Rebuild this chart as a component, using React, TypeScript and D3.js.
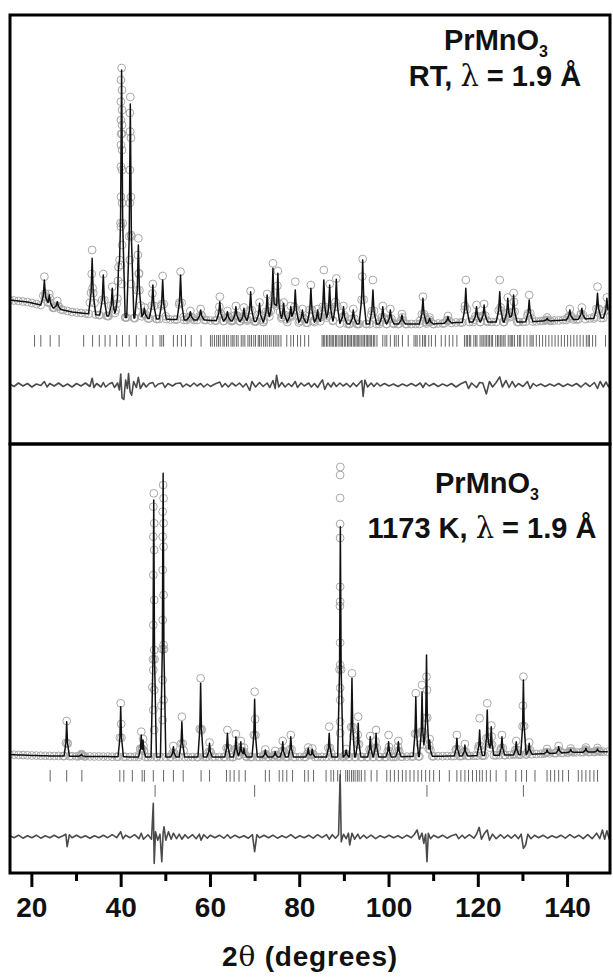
import React from "react";
import * as d3 from "d3";

// ---- data (intensities in arbitrary counts, angles in degrees 2theta) ----

// background level, one value per degree from 15 to 149
const topBackground: number[] = [
  1440, 1435, 1430, 1425, 1420, 1410, 1400, 1390, 1380, 1370, 1360, 1350, 1340, 1330, 1320, 1315,
  1310, 1305, 1300, 1295, 1290, 1285, 1280, 1275, 1270, 1270, 1265, 1265, 1260, 1260, 1260, 1255,
  1255, 1250, 1250, 1250, 1245, 1245, 1245, 1240, 1240, 1240, 1240, 1240, 1240, 1235, 1235, 1230,
  1230, 1230, 1230, 1230, 1225, 1225, 1225, 1225, 1220, 1220, 1220, 1220, 1220, 1220, 1220, 1215,
  1215, 1215, 1215, 1210, 1210, 1210, 1210, 1205, 1205, 1205, 1205, 1205, 1200, 1200, 1200, 1200,
  1200, 1200, 1200, 1200, 1200, 1200, 1200, 1200, 1200, 1200, 1200, 1200, 1200, 1200, 1200, 1200,
  1205, 1205, 1210, 1210, 1215, 1215, 1215, 1220, 1220, 1220, 1220, 1220, 1220, 1220, 1220, 1220,
  1220, 1220, 1220, 1220, 1225, 1225, 1225, 1230, 1230, 1230, 1235, 1235, 1240, 1240, 1245, 1245,
  1250, 1250, 1255, 1255, 1260, 1260, 1260,
];

// [2theta, calculated peak top, observed peak top]
const topPeaks: [number, number, number][] = [
  [22.8, 1640, 1673], [23.9, 1490, 1500], [25.7, 1423, 1430], [33.5, 1857, 1940], [36.0, 1690, 1700],
  [38.0, 1557, 1573], [39.4, 1757, 1770], [40.1, 3740, 3760], [42.05, 3400, 3470], [43.85, 1990, 2057],
  [45.2, 1357, 1365], [47.1, 1590, 1600], [49.3, 1640, 1680], [53.3, 1690, 1723], [55.5, 1323, 1330],
  [57.8, 1340, 1350], [62.1, 1423, 1473], [63.8, 1323, 1330], [65.7, 1373, 1380], [67.5, 1357, 1365],
  [69.0, 1523, 1530], [71.0, 1407, 1415], [72.7, 1490, 1500], [74.0, 1757, 1807], [75.1, 1707, 1730],
  [76.4, 1407, 1415], [78.0, 1373, 1380], [79.0, 1540, 1623], [80.6, 1340, 1350], [82.5, 1557, 1590],
  [84.0, 1340, 1350], [85.4, 1640, 1740], [86.7, 1590, 1600], [88.2, 1647, 1655], [89.8, 1373, 1380],
  [92.0, 1340, 1350], [94.1, 1840, 1850], [96.4, 1540, 1640], [98.6, 1373, 1380], [100.3, 1340, 1350],
  [102.9, 1290, 1300], [107.6, 1457, 1473], [109.1, 1257, 1265], [113.2, 1273, 1280], [117.2, 1557, 1640],
  [119.6, 1373, 1390], [121.3, 1390, 1400], [124.8, 1523, 1640], [126.6, 1457, 1465], [127.9, 1490, 1510],
  [131.4, 1440, 1490], [135.4, 1257, 1265], [140.5, 1340, 1350], [143.2, 1357, 1365], [146.7, 1507, 1573],
  [148.8, 1457, 1465],
];

// observed points on the flanks of the strong reflections
const topFlanks: [number, number][] = [
  [39.95, 3640], [40.2, 3540], [39.95, 3423], [40.2, 3340], [39.95, 3240], [40.2, 3190], [39.95, 2990],
  [40.2, 2940], [39.95, 2773], [40.2, 2740], [39.95, 2473], [40.2, 2410], [39.95, 2173], [40.2, 1990],
  [39.95, 1790], [40.2, 1600],
  [41.95, 3310], [42.2, 3060], [41.95, 2740], [42.2, 2470], [41.95, 2410], [42.2, 2090], [41.95, 1840],
  [42.2, 1600],
  [43.75, 1890], [43.95, 1700], [33.4, 1700], [33.6, 1560],
];

const topReflections: number[] = [
  20.6, 22.0, 24.1, 26.1, 31.6, 33.6, 35.1, 36.4, 37.5, 39.0, 40.3, 41.8, 43.4, 45.6, 47.1, 48.7, 49.1,
  49.5, 51.7, 52.6, 53.5, 54.4, 55.7, 57.9, 60.0, 60.4, 60.9, 61.4, 61.8, 62.2, 62.8, 63.1, 63.6, 64.0,
  64.6, 65.0, 65.3, 65.8, 66.2, 66.9, 67.3, 67.7, 68.4, 68.8, 69.2, 69.7, 70.1, 70.7, 71.0, 71.4, 71.9,
  72.3, 72.7, 73.2, 73.6, 74.1, 74.5, 74.9, 75.3, 75.8, 77.1, 78.0, 78.6, 79.5, 80.2, 81.1, 82.0, 85.0,
  85.3, 85.6, 86.0, 86.3, 86.7, 87.0, 87.3, 87.6, 88.0, 88.2, 88.6, 89.0, 89.3, 89.6, 90.0, 90.3, 90.7,
  91.0, 91.3, 91.6, 92.0, 92.3, 92.6, 92.9, 93.2, 93.5, 93.9, 94.2, 94.5, 94.9, 95.2, 95.5, 95.8, 96.1,
  96.5, 96.8, 97.3, 98.6, 99.1, 99.5, 100.3, 101.2, 101.6, 102.1, 103.0, 104.3, 105.6, 106.0, 106.3,
  106.9, 107.5, 107.9, 108.2, 108.9, 109.5, 110.4, 111.7, 112.6, 113.5, 114.3, 115.2, 116.9, 117.3,
  117.6, 118.0, 118.3, 119.0, 119.4, 119.7, 120.4, 120.8, 121.1, 121.5, 121.8, 122.2, 122.5, 122.9,
  123.2, 123.9, 124.3, 124.6, 125.0, 125.3, 125.7, 126.0, 126.7, 127.1, 127.4, 127.7, 128.1, 128.8,
  129.2, 129.5, 130.2, 130.9, 131.6, 132.0, 132.3, 133.0, 133.7, 134.4, 135.1, 135.8, 136.5, 137.2,
  137.9, 138.6, 139.3, 140.0, 140.7, 141.4, 142.1, 142.8, 143.5, 144.2, 144.6, 144.9, 145.6, 146.3, 148.5,
];

// obs - calc
const topDiff: [number, number][] = [
  [15, 10], [16, -15], [17, 20], [18, -10], [19, 15], [20, -20], [21, 10], [22, -5], [22.8, 35], [23.4, -20],
  [24, 15], [25, -10], [26, 20], [27, -15], [28, 10], [29, -20], [30, 15], [31, -10], [32, 20], [33, -15],
  [33.5, 68], [33.9, -25], [34.5, 15], [35.5, -20], [36, 25], [36.5, -20], [37.3, 10], [38, 25], [38.5, -25],
  [39.2, 20], [39.6, -50], [39.9, 110], [40.2, -128], [40.6, -145], [41, 50], [41.4, -35], [41.65, 115],
  [42, -68], [42.35, -102], [42.8, 35], [43.4, -25], [43.85, 77], [44.3, -35], [45, 20], [45.6, -20],
  [46.3, 15], [47.1, 25], [47.6, -20], [48.3, 10], [49.3, 20], [49.8, -25], [50.5, 15], [51.5, -10],
  [52.3, 15], [53.3, 20], [53.8, -20], [54.6, 10], [55.5, -15], [56.3, 20], [57, -10], [57.8, 15],
  [58.5, -20], [59.3, 10], [60, -15], [61, 10], [62.1, 30], [62.6, -20], [63.3, 15], [64, -20], [64.8, 20],
  [65.7, -10], [66.5, 20], [67.3, -20], [68, 15], [68.8, -55], [69.3, 35], [70.1, -20], [71, 25],
  [71.8, -15], [72.7, 20], [73.3, -25], [74, 45], [74.5, -35], [74.8, 98], [75.3, -20], [76, 25],
  [76.7, -20], [77.5, 15], [78.2, -15], [79, 35], [79.5, -25], [80.3, 20], [81, -10], [82, 20], [82.6, -20],
  [83.3, 15], [84, -25], [84.6, 20], [85.1, 51], [85.6, -43], [86.3, 20], [87, -20], [87.6, 25], [88.2, -15],
  [89, 20], [89.7, -10], [90.5, 15], [91.3, -20], [92, 20], [92.7, -15], [93.4, 20], [93.9, 45],
  [94.2, -115], [94.6, 50], [95.2, -20], [96, 20], [96.6, -15], [97.3, 20], [98, -10], [99, 15], [100, -10],
  [101, 10], [102, -15], [103, 10], [104, -10], [105, 15], [106, -10], [107, 20], [107.6, -25], [108.2, 20],
  [109, -10], [110, 15], [111, -15], [112, 10], [113, -10], [114, 15], [115, -20], [116, 10], [117.2, 35],
  [117.8, -35], [118.5, 20], [119.6, -25], [120.3, 25], [121, 20], [121.8, -90], [122.5, 35], [123.2, -20],
  [124, 25], [124.8, 81], [125.4, -20], [126.2, 45], [126.9, -25], [127.6, 35], [128.3, -20], [129, 15],
  [130, -15], [131, 35], [131.6, -35], [132.3, 15], [133, -10], [134, 10], [135, -15], [136, 10],
  [137, -10], [138, 15], [139, -15], [140, 10], [141, -10], [142, 15], [143, -20], [144, 20], [145, -15],
  [146, 25], [146.7, -35], [147.3, 35], [148, -20], [148.6, 30], [149.2, -20], [149.5, 20],
];

// bottom panel: 1173 K
const botBackground: number[] = [
  1185, 1183, 1181, 1179, 1177, 1175, 1174, 1173, 1172, 1171, 1170, 1170, 1170, 1168, 1168, 1167,
  1167, 1166, 1166, 1165, 1165, 1164, 1164, 1163, 1163, 1162, 1162, 1161, 1161, 1160, 1160, 1160,
  1160, 1160, 1160, 1160, 1160, 1160, 1160, 1160, 1160, 1160, 1160, 1160, 1160, 1160, 1160, 1160,
  1160, 1160, 1160, 1160, 1160, 1160, 1160, 1160, 1160, 1160, 1160, 1160, 1160, 1160, 1160, 1160,
  1160, 1160, 1160, 1160, 1160, 1160, 1160, 1160, 1160, 1160, 1160, 1160, 1160, 1160, 1160, 1160,
  1160, 1160, 1160, 1160, 1160, 1160, 1161, 1162, 1163, 1164, 1165, 1165, 1166, 1166, 1167, 1167,
  1168, 1168, 1169, 1169, 1170, 1170, 1171, 1171, 1172, 1173, 1174, 1175, 1176, 1177, 1178, 1179,
  1180, 1181, 1182, 1184, 1186, 1188, 1190, 1192, 1194, 1196, 1198, 1200, 1202, 1204, 1206, 1207,
  1208, 1209, 1210, 1211, 1212, 1213, 1213,
];

const botPeaks: [number, number, number][] = [
  [27.8, 1513, 1520], [31.1, 1187, 1190], [39.9, 1663, 1697], [44.5, 1380, 1413], [44.9, 1330, 1340],
  [47.3, 3730, 3797], [49.4, 3997, 3880], [51.7, 1263, 1270], [53.6, 1513, 1563], [57.8, 1897, 1947],
  [59.8, 1297, 1305], [63.8, 1397, 1430], [65.7, 1363, 1390], [66.8, 1313, 1320], [67.5, 1247, 1255],
  [69.9, 1737, 1813], [72.3, 1230, 1235], [74.5, 1213, 1220], [76.2, 1313, 1320], [78.0, 1363, 1380],
  [81.9, 1247, 1255], [82.8, 1237, 1245], [86.6, 1397, 1463], [89.1, 3463, 4060], [90.4, 1230, 1240],
  [91.7, 1947, 1997], [93.1, 1497, 1563], [95.8, 1363, 1370], [97.1, 1397, 1430], [99.9, 1313, 1380],
  [102.1, 1313, 1320], [106.0, 1763, 1797], [107.4, 1813, 1880], [108.4, 2180, 1963], [109.1, 1330, 1340],
  [115.2, 1347, 1380], [117.0, 1280, 1290], [120.3, 1430, 1547], [122.0, 1630, 1697], [122.9, 1463, 1475],
  [125.3, 1363, 1380], [128.5, 1313, 1320], [130.1, 1930, 1963], [131.4, 1297, 1305], [135.4, 1230, 1240],
  [138.0, 1263, 1270], [140.7, 1237, 1245], [144.1, 1247, 1255], [146.7, 1240, 1250],
];

const botFlanks: [number, number][] = [
  [47.2, 3663], [47.4, 3497], [47.2, 3363], [47.4, 3230], [47.2, 2980], [47.4, 2730], [47.2, 2480],
  [47.4, 2230], [47.2, 2030], [47.4, 1830], [47.2, 1630], [47.4, 1430],
  [49.5, 3747], [49.3, 3613], [49.5, 3497], [49.3, 3363], [49.5, 3263], [49.3, 3030], [49.5, 2780],
  [49.3, 2530], [49.5, 2280], [49.3, 1930], [49.5, 1730], [49.3, 1530],
  [89.05, 3980], [89.05, 3750], [89.05, 3490], [89.05, 3350], [89.05, 2863], [89.05, 2713], [89.05, 2303],
  [89.05, 2080], [89.05, 1850], [89.05, 1730], [89.05, 1513], [89.05, 1400],
];

const botReflections: number[] = [
  24.1, 27.8, 31.2, 39.7, 40.6, 42.5, 44.7, 45.2, 47.2, 49.5, 51.7, 53.9, 57.9, 59.8, 63.6, 64.4, 65.3,
  66.4, 67.8, 72.3, 73.2, 75.4, 76.2, 77.1, 78.4, 81.1, 81.9, 83.1, 85.9, 87.0, 87.6, 88.5, 89.1, 90.3,
  90.7, 91.1, 91.6, 92.0, 92.4, 92.9, 93.3, 93.8, 94.6, 96.0, 97.3, 99.5, 100.3, 101.2, 102.1, 103.0,
  103.8, 104.7, 105.6, 106.5, 107.3, 108.2, 109.1, 110.0, 111.3, 113.5, 115.2, 116.1, 117.0, 117.8,
  118.7, 119.6, 120.3, 120.9, 121.8, 122.7, 124.0, 126.2, 128.4, 129.7, 130.8, 132.7, 135.4, 136.2,
  137.1, 138.0, 138.9, 140.2, 142.4, 143.2, 144.1, 145.0, 145.9, 146.7,
];

// second phase reflections (lower tick row)
const botReflections2: number[] = [47.6, 69.9, 108.5, 130.1];

const botDiff: [number, number][] = [
  [15, 10], [16, -10], [17, 15], [18, -15], [19, 10], [20, -10], [21, 15], [22, -15], [23, 10], [24, -10],
  [25, 15], [26, -10], [27, 10], [27.6, 25], [27.9, -100], [28.4, 20], [29, -10], [30, 15], [31, -10],
  [32, 10], [33, -15], [34, 10], [35, -10], [36, 15], [37, -10], [38, 20], [39, -10], [39.9, 50],
  [40.4, -20], [41, 15], [42, -10], [43, 20], [44, -20], [44.5, 35], [45, -25], [46, 20], [46.8, -25],
  [47.2, 333], [47.4, -267], [47.7, 50], [48.2, -35], [48.7, 25], [49.1, -250], [49.4, 35], [49.6, 100],
  [50, -35], [50.6, 50], [51.2, -25], [51.7, 35], [52.4, -20], [53, 25], [53.6, -25], [54.3, 20], [55, -15],
  [56, 20], [56.8, -20], [57.5, 25], [57.9, -35], [58.5, 20], [59.3, -15], [60, 15], [61, -10], [62, 15],
  [63, -15], [63.8, 20], [64.5, -15], [65.5, 15], [66.5, -10], [67.5, 10], [68.5, -15], [69.4, 20],
  [69.9, -150], [70.4, 20], [71, -10], [72, 15], [73, -10], [74, 15], [75, -15], [76, 10], [77, -10],
  [78, 20], [79, -15], [80, 10], [81, -10], [82, 15], [83, -15], [84, 20], [85, -10], [86, 20], [86.6, -25],
  [87.3, 20], [88, -15], [88.7, 20], [89.05, 620], [89.3, -50], [89.8, 25], [90.4, -20], [90.9, 35],
  [91.2, -83], [91.7, 35], [92.3, -25], [93, 25], [93.5, -20], [94.3, 15], [95, -15], [96, 15], [97, -20],
  [98, 10], [99, -10], [100, 15], [101, -10], [102, 10], [103, -15], [104, 15], [105, -10], [105.7, 25],
  [106.3, 67], [106.8, -25], [107.4, 35], [107.8, -67], [108.2, 25], [108.5, -250], [108.8, 35],
  [109.3, -20], [110, 15], [111, -10], [112, 15], [113, -15], [114, 10], [115, 25], [115.6, -20],
  [116.4, 15], [117, -15], [118, 20], [119, -15], [119.6, 25], [120.2, 93], [120.7, -25], [121.4, 35],
  [122, 67], [122.5, -35], [123.2, 25], [124, -20], [125, 20], [125.8, -15], [126.6, 15], [127.4, -15],
  [128.2, 20], [129, -20], [129.6, 25], [130.1, -117], [130.6, -83], [131.1, 25], [131.8, -20],
  [132.6, 15], [133.5, -10], [134.5, 15], [135.5, -15], [136.5, 10], [137.5, -10], [138.5, 15],
  [139.5, -15], [140.5, 20], [141.5, -10], [142.5, 15], [143.5, -20], [144.5, 20], [145.5, -20],
  [146.5, 35], [147.2, -20], [147.8, 67], [148.3, -25], [148.8, 60], [149.3, -20], [149.5, 25],
];

const xTicksMajor = [20, 40, 60, 80, 100, 120, 140];
const xTicksMinor = [30, 50, 70, 90, 110, 130];

// ---- layout ----
const WIDTH = 613;
const HEIGHT = 977;
const LEFT = 10;
const RIGHT = 610;
const TOP = 15;
const MID = 444;
const BOTTOM = 873;
const FONT = "'Liberation Sans', Arial, Helvetica, sans-serif";
const SERIF = "'DejaVu Serif', 'Liberation Serif', serif";

const x = d3.scaleLinear().domain([15.1, 149.5]).range([LEFT, RIGHT]);

type Pt = [number, number];

function toPairs(values: number[]): Pt[] {
  return values.map((v, i) => [15 + i, v] as Pt);
}

function buildProfile(bg: Pt[], peaks: [number, number, number][], hw: number) {
  const bgAt = d3.scaleLinear().domain(bg.map(d => d[0])).range(bg.map(d => d[1])).clamp(true);
  const pts = new Set<number>(bg.map(d => d[0]));
  peaks.forEach(([p]) => [-1, -0.3, 0, 0.3, 1].forEach(k => pts.add(p + k * hw)));
  const sorted = Array.from(pts).filter(t => t >= 15 && t <= 149.5).sort((a, b) => a - b);
  // sharp top, broader feet
  const shape = (d: number) => (d < 0.3 ? 1 - (d / 0.3) * 0.62 : d < 1 ? (0.38 * (1 - d)) / 0.7 : 0);
  return sorted.map(t => {
    let m = 0;
    peaks.forEach(([p, c]) => {
      const f = shape(Math.abs(t - p) / hw);
      if (f > 0) m = Math.max(m, (c - bgAt(p)) * f);
    });
    return [t, bgAt(t) + m] as Pt;
  });
}

interface PanelProps {
  id: string;
  y0: number;
  y1: number;
  bg: number[];
  peaks: [number, number, number][];
  hw: number;
  flanks: Pt[];
  refl: number[];
  refl2?: number[];
  diff: Pt[];
  diffOffset: number;
  reflRow: Pt;
  reflRow2?: Pt;
  children?: React.ReactNode;
}

function Panel(props: PanelProps) {
  const { id, y0, y1, bg, peaks, hw, flanks, refl, refl2, diff, diffOffset, reflRow, reflRow2 } = props;
  const y = d3.scaleLinear().domain([0, (y1 - y0) * 10]).range([y1, y0]);
  const bgPts = toPairs(bg);
  const profile = buildProfile(bgPts, peaks, hw);
  const line = d3.line<Pt>().x(d => x(d[0])).y(d => y(d[1]));
  const diffLine = d3.line<Pt>().x(d => x(d[0])).y(d => y(d[1] + diffOffset));

  const obs: Pt[] = [
    ...profile.filter(d => !peaks.some(p => Math.abs(p[0] - d[0]) < 1e-6)),
    ...peaks.map(p => [p[0], p[2]] as Pt),
    ...flanks,
  ];

  return (
    <g>
      <defs>
        <clipPath id={id}>
          <rect x={LEFT} y={y0} width={RIGHT - LEFT} height={y1 - y0} />
        </clipPath>
      </defs>
      <g clipPath={`url(#${id})`}>
        {obs.map((d, i) => (
          <circle key={i} cx={x(d[0])} cy={y(d[1])} r={3.9} fill="none" stroke="#a8a8a8" strokeWidth={1} />
        ))}
        <path d={line(profile) || ""} fill="none" stroke="#111" strokeWidth={1.5} strokeLinejoin="round" />
        {refl.map((r, i) => (
          <line key={i} x1={x(r)} x2={x(r)} y1={y(reflRow[0])} y2={y(reflRow[1])} stroke="#666" strokeWidth={1} />
        ))}
        {refl2 && reflRow2 && refl2.map((r, i) => (
          <line key={i} x1={x(r)} x2={x(r)} y1={y(reflRow2[0])} y2={y(reflRow2[1])} stroke="#666" strokeWidth={1} />
        ))}
        <path d={diffLine(diff) || ""} fill="none" stroke="#4a4a4a" strokeWidth={1.6} strokeLinejoin="round" />
      </g>
      <rect x={LEFT} y={y0} width={RIGHT - LEFT} height={y1 - y0} fill="none" stroke="#000" strokeWidth={3} />
      {props.children}
    </g>
  );
}

export default function App() {
  return (
    <svg width={WIDTH} height={HEIGHT} style={{ position: "absolute", left: 0, top: 0, background: "#fff" }}>
      <rect width={WIDTH} height={HEIGHT} fill="#fff" />
      <Panel
        id="clipTop"
        y0={TOP}
        y1={MID}
        bg={topBackground}
        peaks={topPeaks}
        hw={0.8}
        flanks={topFlanks}
        refl={topReflections}
        diff={topDiff}
        diffOffset={590}
        reflRow={[1090, 973]}
      >
        <g fontFamily={FONT} fontWeight="bold" fill="#111" textAnchor="middle">
          <text x={496} y={50} fontSize={29}>
            PrMnO<tspan dy={7} fontSize={16}>3</tspan>
          </text>
          <text x={495} y={86} fontSize={29}>
            RT, <tspan fontFamily={SERIF} fontWeight={400}>λ</tspan> = 1.9 Å
          </text>
        </g>
      </Panel>
      <Panel
        id="clipBot"
        y0={MID}
        y1={BOTTOM}
        bg={botBackground}
        peaks={botPeaks}
        hw={0.6}
        flanks={botFlanks}
        refl={botReflections}
        refl2={botReflections2}
        diff={botDiff}
        diffOffset={363}
        reflRow={[1030, 913]}
        reflRow2={[880, 763]}
      >
        <g fontFamily={FONT} fontWeight="bold" fill="#111" textAnchor="middle">
          <text x={487} y={493} fontSize={29}>
            PrMnO<tspan dy={7} fontSize={16}>3</tspan>
          </text>
          <text x={482} y={538} fontSize={29}>
            1173 K, <tspan fontFamily={SERIF} fontWeight={400}>λ</tspan> = 1.9 Å
          </text>
        </g>
      </Panel>
      {/* bottom axis */}
      <g>
        {xTicksMajor.map(t => (
          <line key={t} x1={x(t)} x2={x(t)} y1={BOTTOM} y2={BOTTOM + 14} stroke="#000" strokeWidth={3} />
        ))}
        {xTicksMinor.map(t => (
          <line key={t} x1={x(t)} x2={x(t)} y1={BOTTOM} y2={BOTTOM + 8} stroke="#000" strokeWidth={3} />
        ))}
        {xTicksMajor.map(t => (
          <text key={t} x={x(t)} y={917} textAnchor="middle" fontFamily={FONT} fontWeight="bold" fontSize={28} fill="#111">
            {t}
          </text>
        ))}
        <text
          x={(LEFT + RIGHT) / 2}
          y={966}
          textAnchor="middle"
          fontFamily={FONT}
          fontWeight="bold"
          fontSize={28}
          letterSpacing={0.8}
          fill="#111"
        >
          2<tspan fontFamily={SERIF} fontWeight={400}>θ</tspan> (degrees)
        </text>
      </g>
    </svg>
  );
}
